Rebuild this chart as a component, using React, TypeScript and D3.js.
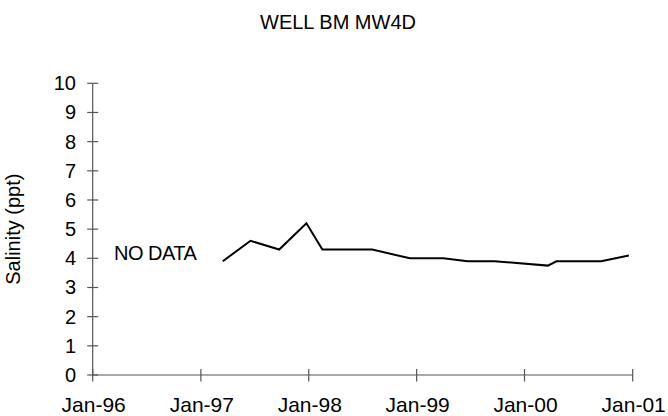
import React from "react";
import * as d3 from "d3";

// Sample dates and salinity readings (ppt) for well BM MW4D
const sampleDates = [
  "1997-03-16", "1997-06-18", "1997-09-23", "1997-12-24", "1998-02-16",
  "1998-08-04", "1998-12-09", "1999-04-01", "1999-06-23", "1999-09-22",
  "2000-03-20", "2000-04-18", "2000-09-16", "2000-12-19",
];
const salinity = [3.9, 4.6, 4.3, 5.2, 4.3, 4.3, 4.0, 4.0, 3.9, 3.9, 3.75, 3.9, 3.9, 4.1];

const xTickDates = ["1996-01-01", "1997-01-01", "1998-01-01", "1999-01-01", "2000-01-01", "2001-01-01"];
const xTickLabels = ["Jan-96", "Jan-97", "Jan-98", "Jan-99", "Jan-00", "Jan-01"];
const yTicks = [0, 1, 2, 3, 4, 5, 6, 7, 8, 9, 10];

const title = "WELL BM MW4D";
const yTitle = "Salinity (ppt)";
const note = "NO DATA";

const W = 668;
const H = 416;
const FONT = "'Liberation Sans', Arial, sans-serif";
const AXIS = "#555";

export default function App() {
  const parse = d3.utcParse("%Y-%m-%d");
  const x = d3
    .scaleUtc()
    .domain([parse("1996-01-01")!, parse("2001-01-01")!])
    .range([92.7, 632.7]);
  const y = d3.scaleLinear().domain([0, 10]).range([375, 83.3]);

  const points = sampleDates.map((d, i) => ({ date: parse(d)!, v: salinity[i] }));
  const line = d3
    .line<{ date: Date; v: number }>()
    .x((p) => x(p.date))
    .y((p) => y(p.v));

  const x0 = x.range()[0];
  const x1 = x.range()[1];
  const y0 = y(0);

  return (
    <svg
      width={W}
      height={H}
      style={{ position: "absolute", left: 0, top: 0, background: "#fff" }}
      fontFamily={FONT}
    >
      <rect width={W} height={H} fill="#fff" />
      <text x={338} y={29} textAnchor="middle" fontSize={20} fill="#000">
        {title}
      </text>

      {/* y axis */}
      <line x1={x0} x2={x0} y1={y(10)} y2={y0} stroke={AXIS} strokeWidth={1.2} />
      {yTicks.map((t) => (
        <g key={t}>
          <line x1={x0 - 5.5} x2={x0 + 5.5} y1={y(t)} y2={y(t)} stroke={AXIS} strokeWidth={1.2} />
          <text
            x={76}
            y={y(t)}
            textAnchor="end"
            dominantBaseline="central"
            fontSize={20}
            fill="#000"
          >
            {t}
          </text>
        </g>
      ))}

      {/* x axis */}
      <line x1={x0} x2={x1} y1={y0} y2={y0} stroke={AXIS} strokeWidth={1.2} />
      {xTickDates.map((d, i) => {
        const px = x(parse(d)!);
        return (
          <g key={d}>
            <line x1={px} x2={px} y1={y0 - 6} y2={y0 + 6.5} stroke={AXIS} strokeWidth={1.2} />
            <text x={px + 1} y={412} textAnchor="middle" fontSize={21} fill="#000">
              {xTickLabels[i]}
            </text>
          </g>
        );
      })}

      <text
        transform={`translate(20, ${(y(0) + y(10)) / 2}) rotate(-90)`}
        textAnchor="middle"
        fontSize={20}
        fill="#000"
      >
        {yTitle}
      </text>

      <text x={114} y={260} fontSize={20} fill="#000" letterSpacing={-0.5}>
        {note}
      </text>

      <path d={line(points) ?? ""} fill="none" stroke="#000" strokeWidth={2} strokeLinejoin="miter" />
    </svg>
  );
}
